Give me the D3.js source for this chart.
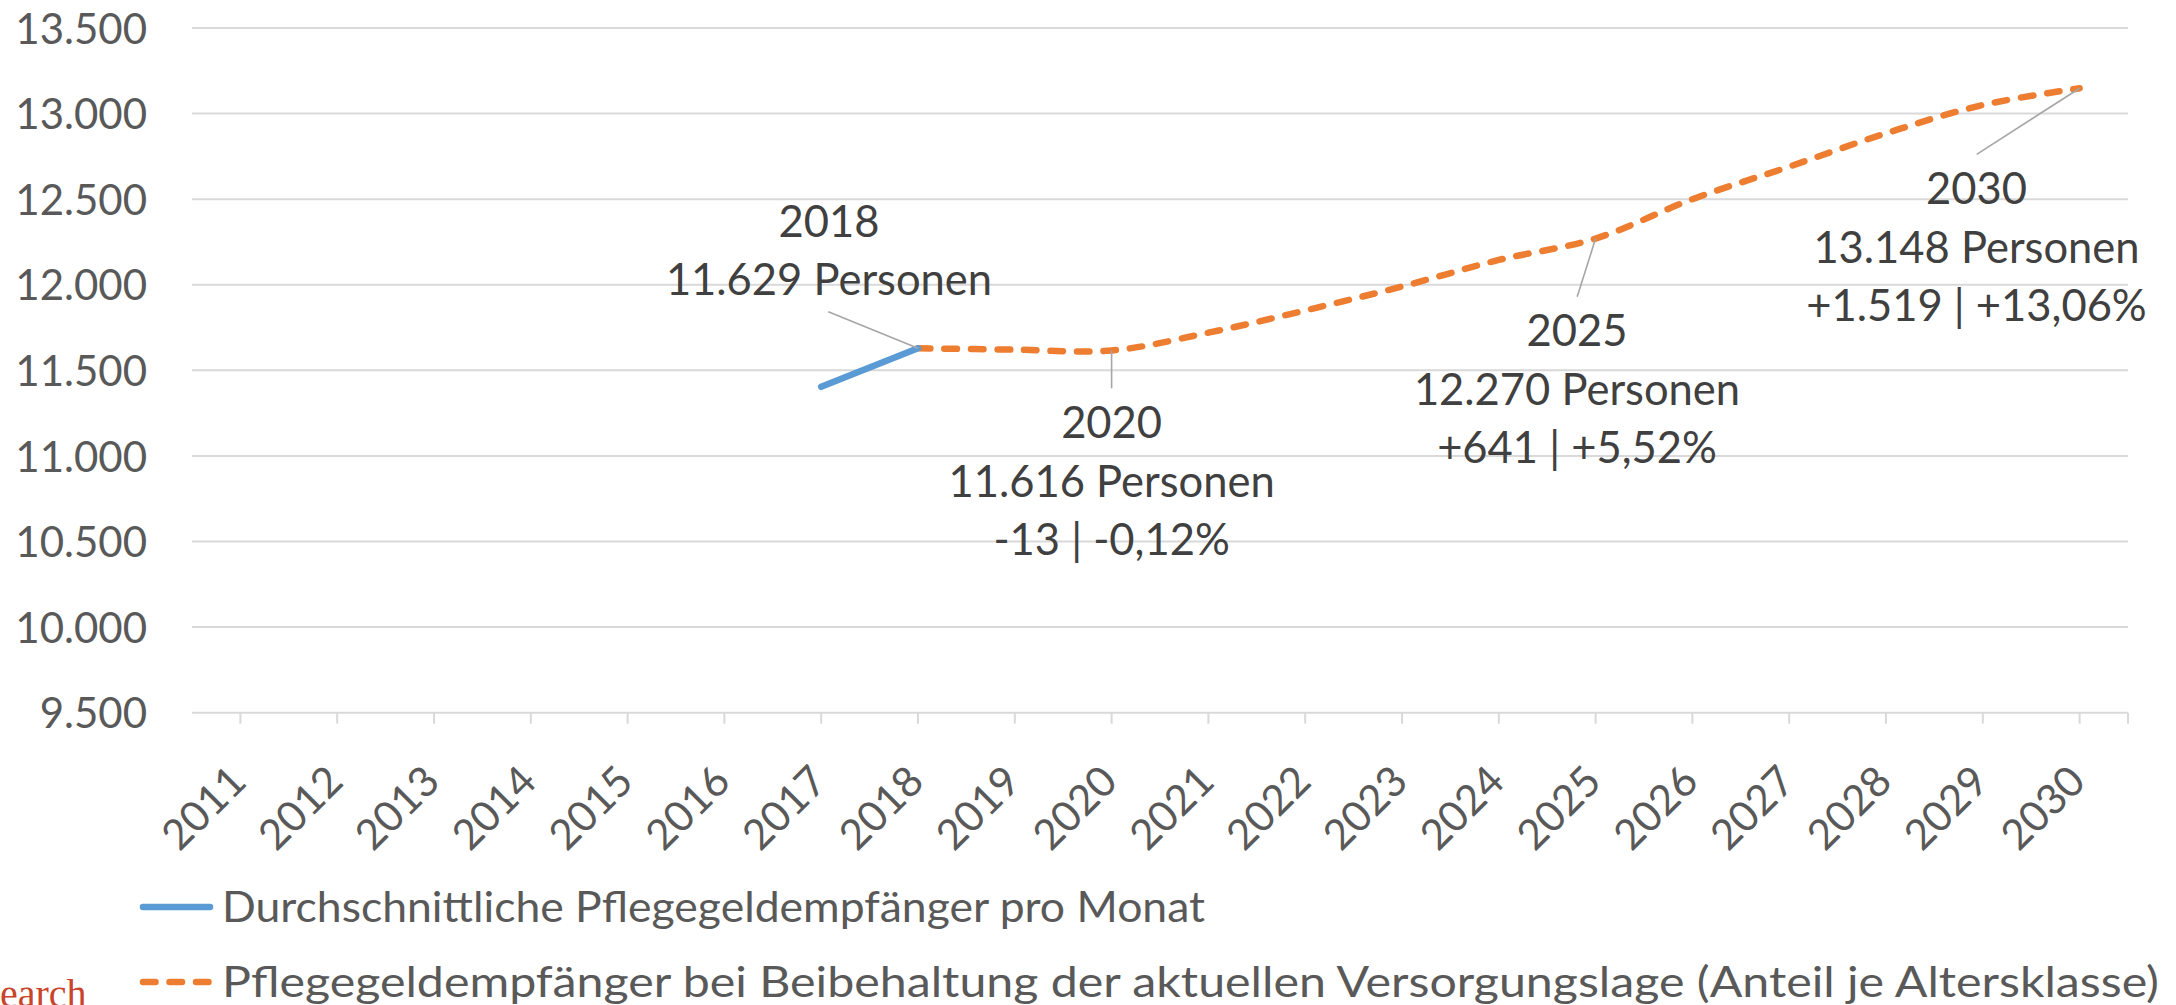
<!DOCTYPE html>
<html lang="de">
<head>
<meta charset="utf-8">
<script src="https://cdn.jsdelivr.net/npm/d3@7/dist/d3.min.js"></script>
<style>
  html, body { margin: 0; padding: 0; background: #fff; }
  svg { display: block; }
  text { font-family: Lato, "Open Sans", sans-serif; }
</style>
</head>
<body>
<svg id="chart" width="2176" height="1005"></svg>
<script>
// Categories (years on the x axis)
const years = ["2011","2012","2013","2014","2015","2016","2017","2018","2019","2020",
               "2021","2022","2023","2024","2025","2026","2027","2028","2029","2030"];

// Observed series: average monthly recipients
const istYears  = ["2017", "2018"];
const istValues = [11404, 11629];

// Projection at unchanged care situation (share per age group)
const progYears  = ["2018","2019","2020","2021","2022","2023","2024","2025","2026","2027","2028","2029","2030"];
const progValues = [11629, 11621, 11616, 11720, 11850, 11990, 12145, 12270, 12500, 12690, 12885, 13050, 13148];

// Y axis ticks
const yTicks = [9500, 10000, 10500, 11000, 11500, 12000, 12500, 13000, 13500];

// Callouts
const calloutYears = ["2018", "2020", "2025", "2030"];
const calloutLines = [
  ["2018", "11.629 Personen"],
  ["2020", "11.616 Personen", "-13 | -0,12%"],
  ["2025", "12.270 Personen", "+641 | +5,52%"],
  ["2030", "13.148 Personen", "+1.519 | +13,06%"]
];

// Legend
const seriesNames = [
  "Durchschnittliche Pflegegeldempfänger pro Monat",
  "Pflegegeldempfänger bei Beibehaltung der aktuellen Versorgungslage (Anteil je Altersklasse)"
];

// ---- layout ----
const plot = { left: 192, right: 2128, top: 28, bottom: 712.7 };
const blue = "#5B9BD5", orange = "#ED7D31";
const axisText = "#595959", labelText = "#404040", gridColor = "#D9D9D9", leaderColor = "#A6A6A6";
const fontSize = 42;
const calloutFontSize = 43.5;

const svg = d3.select("#chart");

const x = d3.scaleBand().domain(years).range([plot.left, plot.right]);
const cx = yr => x(yr) + x.bandwidth() / 2;
const y = d3.scaleLinear().domain([9500, 13500]).range([plot.bottom, plot.top]);

// Gridlines (the lowest one doubles as the category axis line)
svg.append("g").selectAll("line").data(yTicks).join("line")
  .attr("x1", plot.left).attr("x2", plot.right)
  .attr("y1", d => y(d)).attr("y2", d => y(d))
  .attr("stroke", gridColor).attr("stroke-width", 2);

// Y axis labels
const fmt = d3.formatLocale({ decimal: ",", thousands: ".", grouping: [3], currency: ["", "€"] }).format(",d");
const yAxis = d3.axisLeft(y).tickValues(yTicks).tickFormat(fmt).tickSize(0).tickPadding(0);
const yg = svg.append("g").attr("transform", "translate(147,0)").call(yAxis);
yg.select(".domain").remove();
yg.selectAll("text").attr("fill", axisText).style("font-size", fontSize + "px")
  .style("font-family", "Lato, sans-serif").attr("dy", "0.36em");

// X axis ticks at category centres, plus one at the right end
const tickXs = years.map(cx).concat([plot.right]);
svg.append("g").selectAll("line").data(tickXs).join("line")
  .attr("x1", d => d).attr("x2", d => d)
  .attr("y1", plot.bottom).attr("y2", plot.bottom + 11)
  .attr("stroke", gridColor).attr("stroke-width", 2);

// X axis labels, rotated
svg.append("g").selectAll("text").data(years).join("text")
  .attr("transform", d => `translate(${cx(d) + 8},${plot.bottom + 71}) rotate(-45)`)
  .attr("text-anchor", "end")
  .attr("fill", axisText).style("font-size", fontSize + "px")
  .text(d => d);

// Lines
const line = d3.line().x(d => cx(d[0])).y(d => y(d[1]));
const smooth = d3.line().x(d => cx(d[0])).y(d => y(d[1])).curve(d3.curveCatmullRom.alpha(0.5));

svg.append("path")
  .datum(d3.zip(progYears, progValues))
  .attr("d", smooth)
  .attr("fill", "none").attr("stroke", orange).attr("stroke-width", 6.5)
  .attr("stroke-linecap", "round").attr("stroke-dasharray", "12.5,14");

svg.append("path")
  .datum(d3.zip(istYears, istValues))
  .attr("d", line)
  .attr("fill", "none").attr("stroke", blue).attr("stroke-width", 6.5)
  .attr("stroke-linecap", "round");

// Callout placement: text centre / first baseline, and leader end point
const calloutLayout = {
  "2018": { tx: 829,    ty: 236.7, lx: 828.3,  ly: 311.7 },
  "2020": { tx: 1111.6, ty: 438.3, lx: 1111.6, ly: 388.3 },
  "2025": { tx: 1577,   ty: 346,   lx: 1577.2, ly: 296.7 },
  "2030": { tx: 1976.5, ty: 204,   lx: 1976.7, ly: 154.3 }
};
const lineGap = 58.5;
const valueOf = yr => {
  const i = progYears.indexOf(yr);
  return i >= 0 ? progValues[i] : istValues[istYears.indexOf(yr)];
};

const cg = svg.append("g");
calloutYears.forEach((yr, i) => {
  const L = calloutLayout[yr];
  cg.append("line")
    .attr("x1", cx(yr)).attr("y1", y(valueOf(yr)))
    .attr("x2", L.lx).attr("y2", L.ly)
    .attr("stroke", leaderColor).attr("stroke-width", 1.6);
  const t = cg.append("text")
    .attr("text-anchor", "middle").attr("fill", labelText)
    .style("font-size", calloutFontSize + "px");
  calloutLines[i].forEach((s, k) => {
    t.append("tspan").attr("x", L.tx).attr("y", L.ty + k * lineGap).text(s);
  });
});

// Legend
const legendRows = [
  { y: 907, color: blue, dash: null, width: 983 },
  { y: 982, color: orange, dash: "12.5,14", width: 1937 }
];
const lg = svg.append("g");
legendRows.forEach((r, i) => {
  lg.append("line")
    .attr("x1", 143).attr("x2", 210).attr("y1", r.y).attr("y2", r.y)
    .attr("stroke", r.color).attr("stroke-width", 6.5).attr("stroke-linecap", "round")
    .attr("stroke-dasharray", r.dash);
  lg.append("text")
    .attr("x", 222).attr("y", r.y + 15)
    .attr("textLength", r.width).attr("lengthAdjust", "spacingAndGlyphs")
    .attr("fill", axisText).style("font-size", fontSize + "px")
    .text(seriesNames[i]);
});

// Source credit, cut at the lower left edge
svg.append("text")
  .attr("x", 0).attr("y", 1007)
  .attr("fill", "#C8442A")
  .style("font-family", "'Liberation Serif', 'DejaVu Serif', serif")
  .style("font-size", "40px")
  .text("earch");
</script>
</body>
</html>
